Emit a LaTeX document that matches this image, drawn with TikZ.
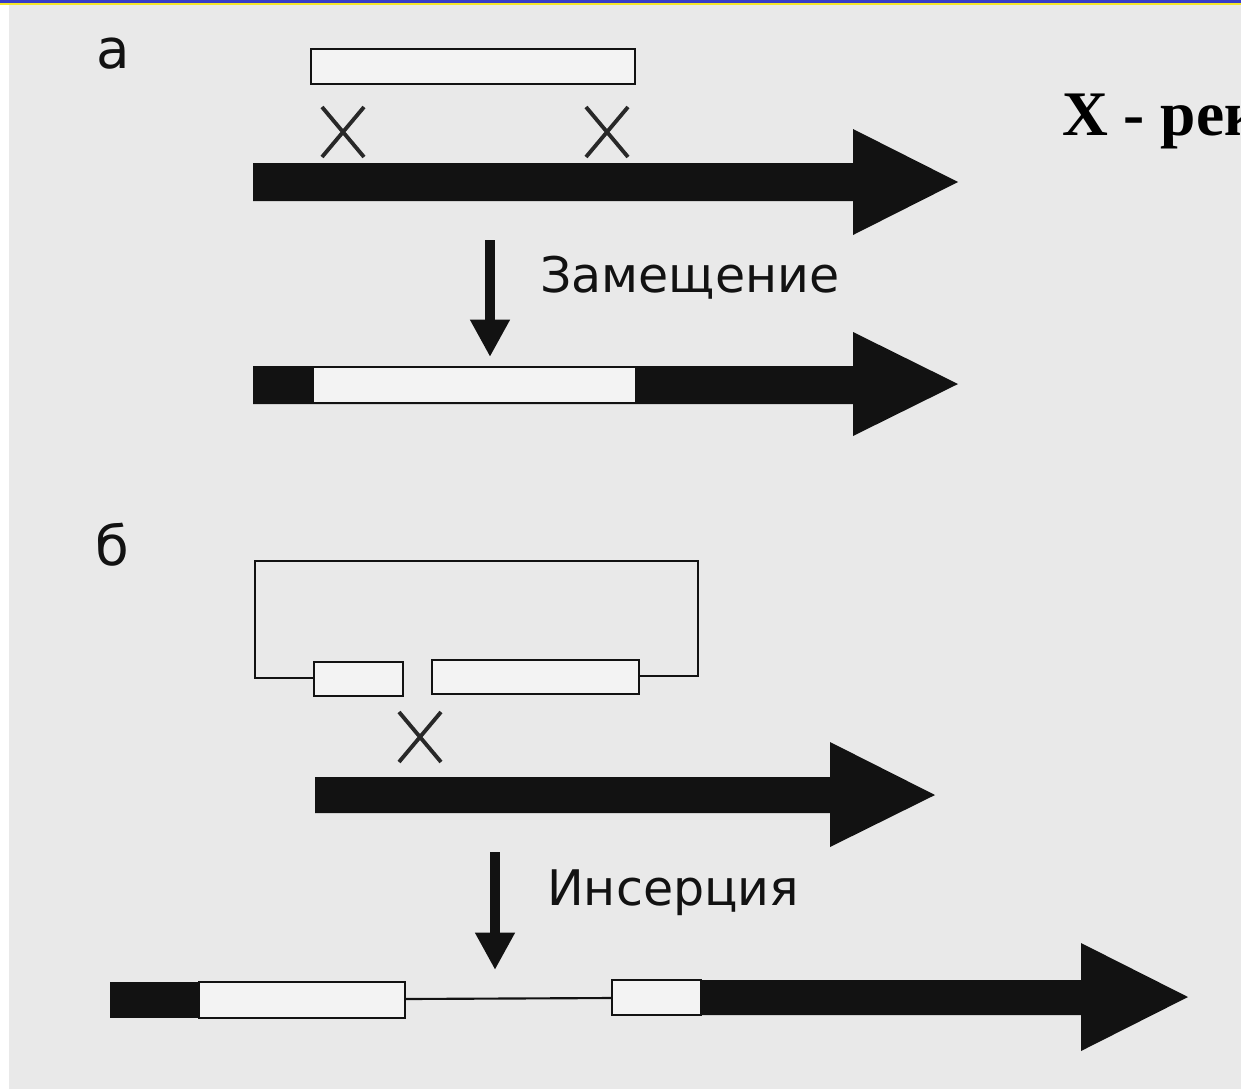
\documentclass[tikz,border=0pt]{standalone}
\usepackage{fontspec}
\usetikzlibrary{arrows.meta}
\newfontfamily\labfont{DejaVu Sans}
\newfontfamily\notefont{Liberation Serif}

\definecolor{paper}{RGB}{233,233,233}
\definecolor{ink}{RGB}{18,18,18}
\definecolor{pale}{RGB}{243,243,243}
\definecolor{crossink}{RGB}{40,40,40}
\definecolor{rulerblue}{RGB}{55,60,200}
\definecolor{rulergold}{RGB}{245,230,40}

\tikzset{
  dnabar/.style={fill=ink, draw=none},
  vecbox/.style={draw=ink, line width=2pt, fill=pale},
  vecline/.style={draw=ink, line width=1.6pt},
  xmark/.style={draw=crossink, line width=2.9pt},
  stepdown/.style={draw=ink, line width=7.5pt,
    -{Triangle[width=28pt,length=28pt]}},
  steptext/.style={anchor=base west, inner sep=0pt, text=ink,
    font=\labfont\fontsize{36.8}{40}\selectfont},
  panel/.style={anchor=base west, inner sep=0pt, text=ink,
    font=\labfont\fontsize{41}{44}\selectfont},
  legend/.style={anchor=base west, inner sep=0pt, text=black,
    font=\notefont\bfseries\fontsize{47.6}{50}\selectfont}
}

% a recombination cross drawn at a point
\newcommand{\crossat}[2]{%
  \draw[xmark] (#1-21,#2-25) -- (#1+21,#2+25);
  \draw[xmark] (#1-21,#2+25) -- (#1+21,#2-25);}

\begin{document}
\begin{tikzpicture}[x=0.75pt,y=-0.75pt]
\useasboundingbox (0,0) rectangle (1241,1089);
\begin{scope}
\clip (0,0) rectangle (1241,1089);
% sheet and top rule
\fill[white] (0,0) rectangle (1241,1089);
\fill[paper] (9,5) rectangle (1241,1089);
\fill[rulerblue] (0,0) rectangle (1241,2.6);
\fill[rulergold] (0,2.6) rectangle (1241,4.8);

% panel labels and legend
\node[panel] (la) at (96,68) {а};
\node[panel] (lb) at (95,565) {б};
\node[legend] (key) at (1062,135) {X - рекомбинация};

% ---------- panel a: replacement ----------
\draw[vecbox] (311,49) rectangle (635,84);
\crossat{343}{132}
\crossat{607}{132}

% target chromosome
\fill[dnabar] (253,163) -- (853,163) -- (853,129) -- (958,182)
  -- (853,235) -- (853,201) -- (253,201) -- cycle;

\coordinate (s1a) at (490,240);
\coordinate (s1b) at (490,357);
\draw[stepdown] (s1a) -- (s1b);
\node[steptext] (t1) at (540,292) {Замещение};

% replaced chromosome
\fill[dnabar] (253,366) -- (853,366) -- (853,332) -- (958,384)
  -- (853,436) -- (853,404) -- (253,404) -- cycle;
\draw[vecbox] (313,367) rectangle (636,403);

% ---------- panel b: insertion ----------
\draw[vecline] (314,678) -- (255,678) -- (255,561) -- (698,561)
  -- (698,676) -- (639,676);
\draw[vecbox] (314,662) rectangle (403,696);
\draw[vecbox] (432,660) rectangle (639,694);
\crossat{420}{737}

\fill[dnabar] (315,777) -- (830,777) -- (830,742) -- (935,795)
  -- (830,847) -- (830,813) -- (315,813) -- cycle;

\coordinate (s2a) at (495,852);
\coordinate (s2b) at (495,970);
\draw[stepdown] (s2a) -- (s2b);
\node[steptext] (t2) at (547,905) {Инсерция};

% integrated chromosome
\fill[dnabar] (110,982) rectangle (200,1018);
\draw[vecbox] (199,982) rectangle (405,1018);
\draw[vecline] (405,999) -- (612,998);
\fill[dnabar] (700,980) -- (1081,980) -- (1081,943) -- (1188,997)
  -- (1081,1051) -- (1081,1015) -- (700,1015) -- cycle;
\draw[vecbox] (612,980) rectangle (701,1015);
\end{scope}
\end{tikzpicture}
\end{document}
